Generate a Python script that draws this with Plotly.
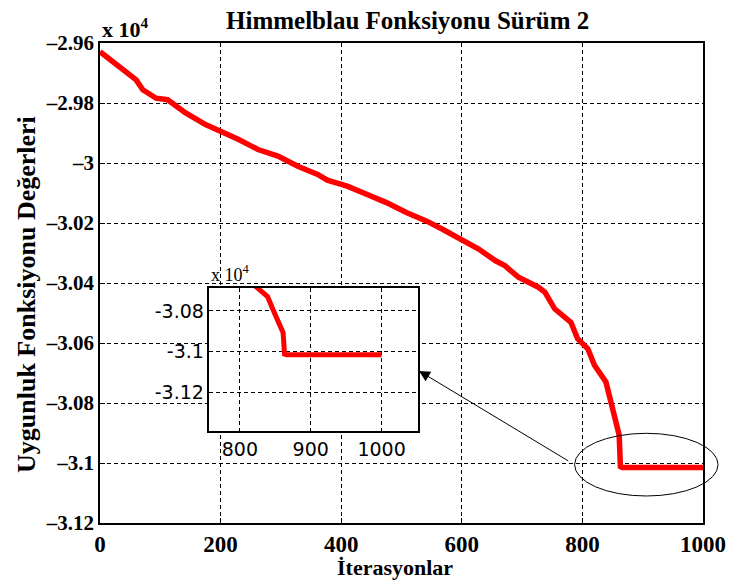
import plotly.graph_objects as go

# ---- data (fitness values, actual units) ----
iterations = [0, 27, 41, 60, 71, 93, 112, 142, 175, 200, 230, 262, 295, 328, 361, 377,
              410, 443, 475, 508, 541, 568, 596, 628, 656, 672, 694, 727, 738, 754, 781,
              792, 809, 820, 839, 847, 858, 861, 863, 866, 1000]
fitness = [-29629, -29673, -29695, -29723, -29756, -29784, -29789, -29833, -29872, -29894,
           -29922, -29955, -29977, -30011, -30038, -30057, -30077, -30105, -30132, -30165,
           -30193, -30221, -30252, -30287, -30326, -30343, -30381, -30414, -30431, -30486,
           -30531, -30586, -30619, -30674, -30730, -30796, -30874, -30907, -31012, -31015,
           -31015]

main_xticks = [0, 200, 400, 600, 800, 1000]
main_yticks = [-29600, -29800, -30000, -30200, -30400, -30600, -30800, -31000, -31200]
main_yticktext = ["–2.96", "–2.98", "–3", "–3.02", "–3.04", "–3.06", "–3.08", "–3.1", "–3.12"]

inset_xticks = [800, 900, 1000]
inset_yticks = [-30800, -31000, -31200]
inset_yticktext = ["-3.08", "-3.1", "-3.12"]

main_xrange = [0, 1000]
main_yrange = [-31200, -29600]
inset_xrange = [757, 1052]
inset_yrange = [-31390, -30688]

# zoom ellipse (data coords of main axes)
ell_x = [787, 1025]
ell_y = [-31110, -30901]

SERIF = "Liberation Serif, Times New Roman, serif"
SANS = "DejaVu Sans, Verdana, sans-serif"
GRID = dict(showgrid=True, gridcolor="black", gridwidth=1, griddash="4px,3px")

fig = go.Figure()
fig.add_trace(go.Scatter(x=iterations, y=fitness, mode="lines",
                         line=dict(color="#ff0000", width=5.5), xaxis="x", yaxis="y",
                         showlegend=False))
fig.add_trace(go.Scatter(x=iterations, y=fitness, mode="lines",
                         line=dict(color="#ff0000", width=5), xaxis="x2", yaxis="y2",
                         showlegend=False))

def to_paper_x(v):
    return (v - main_xrange[0]) / (main_xrange[1] - main_xrange[0])

def to_paper_y(v):
    return (v - main_yrange[0]) / (main_yrange[1] - main_yrange[0])

fig.update_layout(
    width=738, height=580,
    margin=dict(l=100, r=28, t=43, b=57),
    paper_bgcolor="white", plot_bgcolor="white",
    font=dict(family=SERIF, color="black"),
    xaxis=dict(range=main_xrange, tickvals=main_xticks, ticks="inside", ticklen=5,
               tickcolor="black", showline=True, linecolor="black", linewidth=1.5, mirror=True,
               tickfont=dict(size=23, family=SERIF, weight="bold"), zeroline=False,
               domain=[0, 1], **GRID),
    yaxis=dict(range=main_yrange, tickvals=main_yticks, ticktext=main_yticktext,
               ticks="inside", ticklen=5, tickcolor="black", showline=True,
               linecolor="black", linewidth=1.5, mirror=True,
               tickfont=dict(size=21, family=SERIF, weight="bold"), zeroline=False,
               domain=[0, 1], **GRID),
    xaxis2=dict(range=inset_xrange, tickvals=inset_xticks, ticks="inside", ticklen=4,
                tickcolor="black", showline=True, linecolor="black", linewidth=1.5, mirror=True,
                tickfont=dict(size=19, family=SANS), zeroline=False,
                domain=[0.1815, 0.528], anchor="y2", **GRID),
    yaxis2=dict(range=inset_yrange, tickvals=inset_yticks, ticktext=inset_yticktext,
                ticks="inside", ticklen=4, tickcolor="black", showline=True,
                linecolor="black", linewidth=1.5, mirror=True,
                tickfont=dict(size=19, family=SANS), zeroline=False,
                domain=[0.1909, 0.4896], anchor="x2", **GRID),
    shapes=[
        dict(type="rect", xref="x2 domain", yref="y2 domain", x0=0, x1=1, y0=0, y1=1,
             fillcolor="white", line=dict(width=0), layer="below"),
        dict(type="circle", xref="paper", yref="paper",
             x0=to_paper_x(ell_x[0]), x1=to_paper_x(ell_x[1]),
             y0=to_paper_y(ell_y[0]), y1=to_paper_y(ell_y[1]),
             line=dict(color="black", width=1), layer="above"),
    ],
    annotations=[
        dict(text="<b>Himmelblau Fonksiyonu Sürüm 2</b>", xref="paper", yref="paper",
             x=0.51, y=1.0, yshift=23, showarrow=False, font=dict(size=25, family=SERIF),
             xanchor="center", yanchor="middle"),
        dict(text="<b>Uygunluk Fonksiyonu Değerleri</b>", xref="paper", yref="paper",
             x=0, xshift=-74, y=0.475, textangle=-90, showarrow=False,
             font=dict(size=26, family=SERIF), xanchor="center", yanchor="middle"),
        dict(text="<b>İterasyonlar</b>", xref="paper", yref="paper",
             x=0.49, y=0, yshift=-44, showarrow=False, font=dict(size=22, family=SERIF),
             xanchor="center", yanchor="middle"),
        dict(text="<b>x 10<sup>4</sup></b>", xref="paper", yref="paper",
             x=0, y=1.0, yshift=15, xanchor="left", yanchor="middle", showarrow=False,
             font=dict(size=22, family=SERIF)),
        dict(text="x 10<sup>4</sup>", xref="x2 domain", yref="y2 domain",
             x=0, y=1.0, yshift=14, xanchor="left", yanchor="middle", showarrow=False,
             font=dict(size=18, family=SERIF)),
        dict(text="", xref="x", yref="y", x=529, y=-30693, axref="x", ayref="y",
             ax=779, ay=-30996, showarrow=True, arrowhead=2, arrowsize=2.2,
             arrowwidth=1, arrowcolor="black"),
    ],
)

fig.write_html("out.html")
